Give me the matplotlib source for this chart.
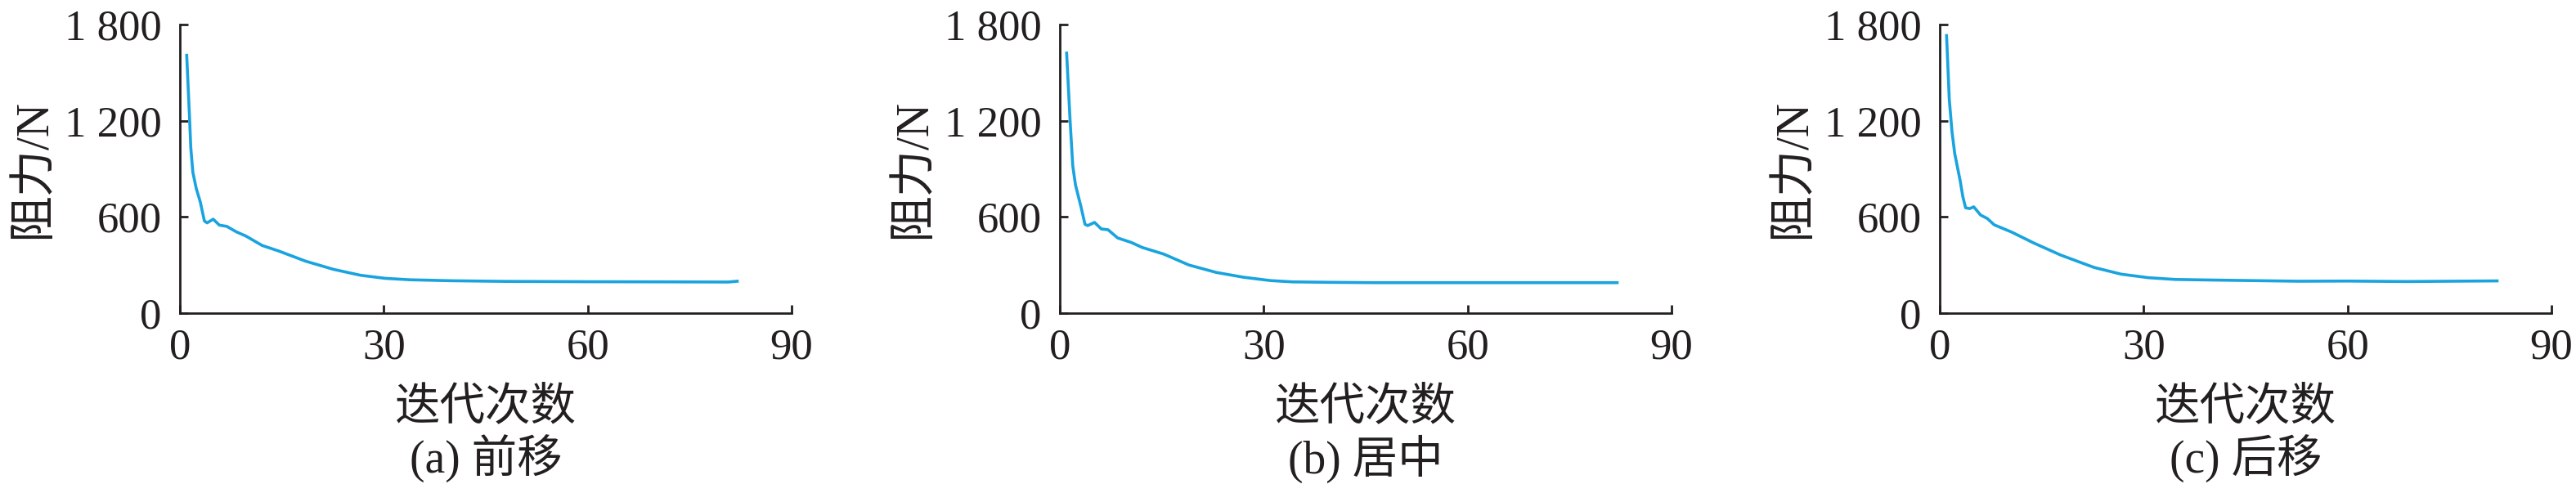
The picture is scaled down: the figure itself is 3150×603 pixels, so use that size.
# coding:utf-8
from matplotlib import pyplot as plt

plt.rcParams['font.family'] = ['Liberation Serif', 'Noto Sans CJK SC']
plt.rcParams['axes.unicode_minus'] = False

LINE_COLOR = '#19a3df'
AXIS_COLOR = '#231f20'

# values (iteration, resistance N)
x_front = [1, 1.4, 1.6, 1.9, 2.4, 3.0, 3.6, 4.0, 4.9, 5.8, 6.9, 8.3, 9.7, 12.1,
           14.5, 18.5, 22.6, 26.6, 30.2, 33.9, 40, 47.8, 59.8, 71.9, 80.7, 82]
y_front = [1608, 1236, 1032, 880, 778, 693, 575, 563, 586, 549, 541, 507, 481, 422,
           388, 324, 273, 236, 217, 208, 202, 198, 196, 195, 194, 199]

x_mid = [1, 1.5, 1.9, 2.3, 3.1, 3.7, 4.1, 5.1, 6.1, 7.1, 8.5, 10.5, 12.1, 15.3,
         19.0, 23.0, 27.0, 31.0, 34.2, 40, 46.3, 55, 65, 75, 82]
y_mid = [1622, 1207, 919, 800, 665, 554, 546, 566, 525, 520, 469, 441, 410, 368,
         300, 254, 224, 203, 195, 192, 190, 190, 190, 190, 190]

x_back = [1, 1.4, 1.8, 2.2, 3.0, 3.4, 3.8, 4.4, 5.0, 6.0, 7.0, 8.0, 10.6, 13.8,
          17.8, 22.7, 26.7, 30.7, 34.7, 40.7, 52.8, 60, 68.8, 75, 82]
y_back = [1731, 1333, 1131, 995, 826, 725, 657, 652, 663, 612, 590, 551, 505, 438,
          362, 285, 243, 221, 210, 206, 199, 200, 197, 199, 201]

subtitles = ['(a) 前移', '(b) 居中', '(c) 后移']
x_ticks = [0, 30, 60, 90]
y_ticks = [0, 600, 1200, 1800]
y_tick_labels = ['0', '600', '1 200', '1 800']

series = [(x_front, y_front), (x_mid, y_mid), (x_back, y_back)]
lefts = [220, 1296, 2372]

fig = plt.figure(figsize=(31.5, 6.03), dpi=100)

for i, (xs, ys) in enumerate(series):
    ax = fig.add_axes([lefts[i] / 3150, 220 / 603, 748 / 3150, 353 / 603])
    ax.plot(xs, ys, color=LINE_COLOR, linewidth=2.6)

    ax.set_xlim(0, 90)
    ax.set_ylim(0, 1800)
    ax.set_xticks(x_ticks)
    ax.set_yticks(y_ticks)
    ax.set_yticklabels(y_tick_labels)

    for side in ['top', 'right']:
        ax.spines[side].set_visible(False)
    for side in ['left', 'bottom']:
        ax.spines[side].set_linewidth(2.0)
        ax.spines[side].set_color(AXIS_COLOR)

    ax.tick_params(axis='both', direction='in', length=7, width=2.0,
                   color=AXIS_COLOR, labelsize=38, labelcolor=AXIS_COLOR)
    ax.tick_params(axis='x', pad=13)
    ax.tick_params(axis='y', pad=16)

    ax.set_xlabel('迭代次数', fontsize=40, color=AXIS_COLOR, va='center')
    ax.xaxis.set_label_coords(0.5, -0.33)
    ax.set_ylabel('阻力/N', fontsize=41, color=AXIS_COLOR, va='center')
    ax.yaxis.set_label_coords(-0.24, 0.5)

    ax.text(0.5, -0.505, subtitles[i], transform=ax.transAxes, ha='center',
            va='center', fontsize=40, color=AXIS_COLOR)

plt.savefig('out.png', dpi=100)
